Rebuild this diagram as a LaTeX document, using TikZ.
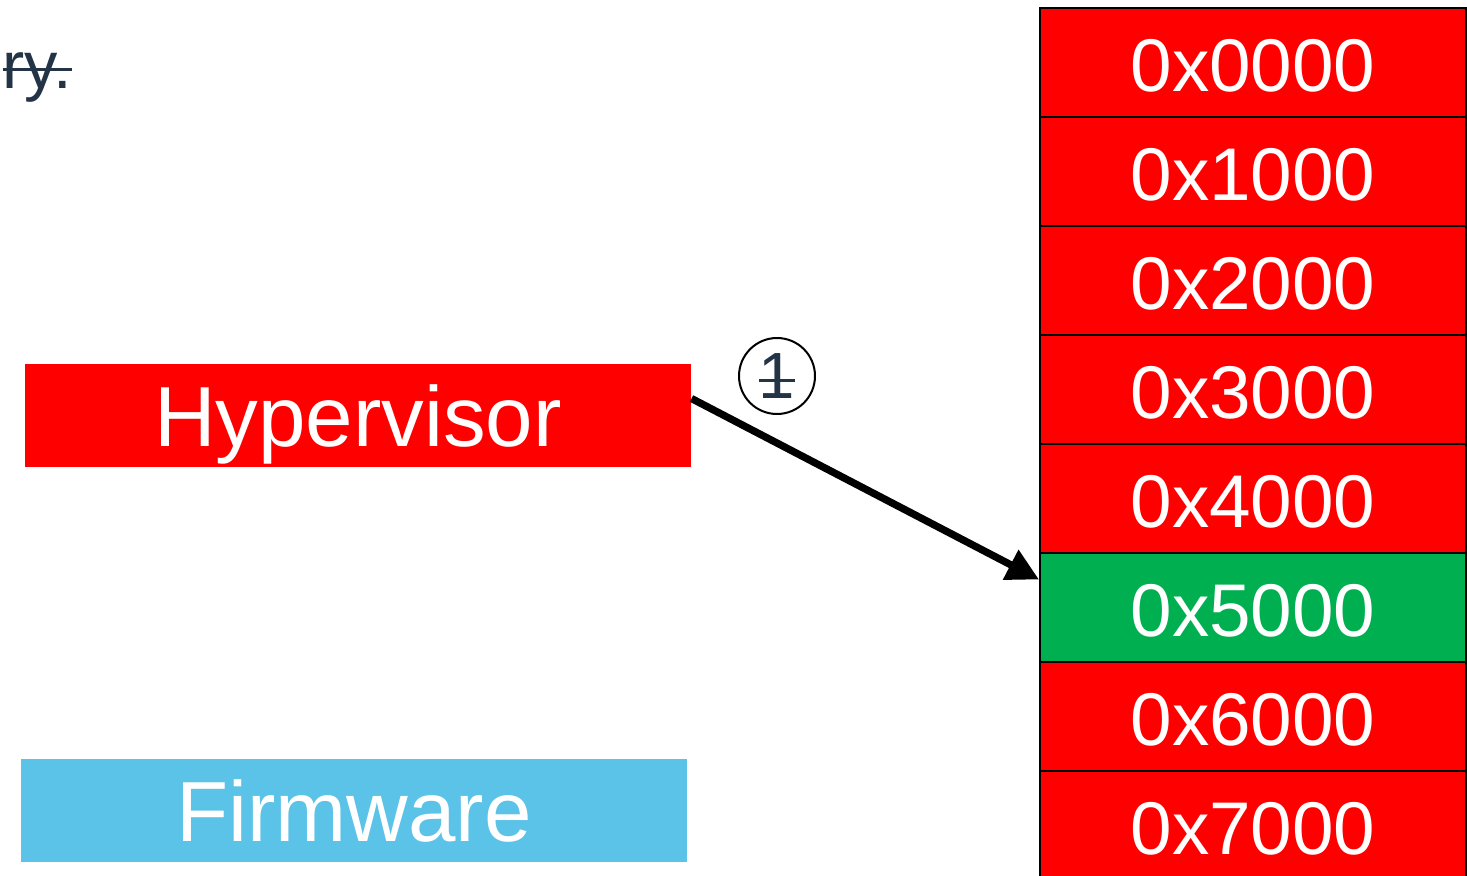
\documentclass[tikz,border=0pt]{standalone}
\usepackage{fontspec}
\setmainfont{Liberation Sans}
\usetikzlibrary{arrows.meta}
\definecolor{cellred}{RGB}{255,0,0}
\definecolor{cellgreen}{RGB}{0,176,80}
\definecolor{fwblue}{RGB}{91,195,232}
\definecolor{slate}{RGB}{36,52,71}
\newcommand{\strikeout}[1]{\setbox0\hbox{#1}\rlap{\rule[0.48ex]{\wd0}{2pt}}\box0}
\tikzset{every picture/.style={line width=0.75pt}}
\tikzset{
  memcell/.style={draw=black, line width=1.5pt, text=white, inner sep=0pt,
    minimum width=319.5pt, minimum height=81.75pt, text height=44pt, text depth=0pt,
    font=\fontsize{56}{60}\selectfont},
  layerbox/.style={inner sep=0pt, text=white, minimum width=499.5pt, minimum height=77.25pt,
    text depth=0pt, font=\fontsize{64}{68}\selectfont}
}

\begin{document}
\begin{tikzpicture}[x=0.75pt,y=0.75pt,yscale=-1,xscale=1]
\path[use as bounding box] (0,0) rectangle (1467,875);

% Text Node
\draw (2,88) node [anchor=base west][inner sep=0pt, text=slate, font=\fontsize{50}{54}\selectfont] (note) {\strikeout{ry.}};

%Shape: Rectangle
\node [layerbox, fill=cellred] (hyper) at (358,415.5) {Hypervisor};
%Shape: Rectangle
\node [layerbox, fill=fwblue] (firm) at (354,810.5) {Firmware};

%Memory cells
\foreach \i/\col in {0/cellred,1/cellred,2/cellred,3/cellred,4/cellred,5/cellgreen,6/cellred,7/cellred} {
  \node [memcell, fill=\col] (c\i) at (1253,62.5+109*\i) {0x\i000};
}

%Shape: Circle
\node [circle, draw=black, line width=1.5pt, minimum size=57pt, inner sep=0pt, text=slate,
  text height=34pt, text depth=0pt, font=\fontsize{49}{52}\selectfont] (step1) at (777,376) {\strikeout{1}};

%Straight Lines
\draw [line width=5.5pt, -{Triangle[length=24pt,width=24pt]}] ([yshift=-12.75pt]hyper.east) -- ([yshift=-21pt]c5.west);

\end{tikzpicture}
\end{document}
